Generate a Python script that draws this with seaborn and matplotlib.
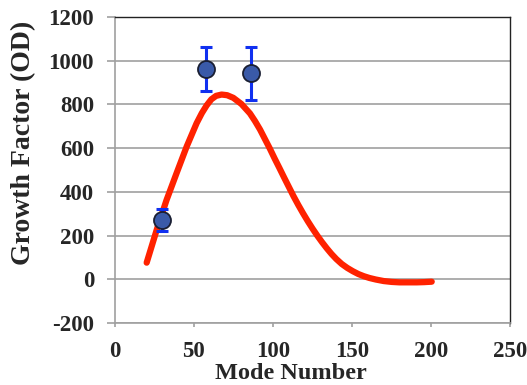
import numpy as np
import pandas as pd
import matplotlib
matplotlib.use("Agg")
import matplotlib.pyplot as plt
import seaborn as sns

# fitted curve
curve_x = [20.1, 26.4, 32.7, 39.0, 45.4, 51.7, 55.0, 58.0, 61.0, 64.0, 67.5,
           71.0, 74.9, 80.0, 85.4, 88.6, 91.8, 95.0, 98.0, 101.0, 104.0,
           107.0, 110.0, 113.0, 116.0, 119.0, 122.0, 125.0, 128.0, 131.0,
           134.0, 137.0, 140.0, 143.5, 147.0, 150.5, 154.0, 157.5, 161.0,
           165.0, 170.0, 175.0, 180.0, 185.5, 190.9, 195.5, 200.4]
curve_y = [76, 225, 363, 485, 607, 714, 760, 795, 823, 839, 845,
           842, 830, 802, 759, 724, 685, 640, 598, 553, 510,
           466, 423, 380, 340, 302, 266, 232, 200, 170,
           142, 116, 93, 70, 52, 37, 24, 14, 6,
           -1, -8, -12, -14, -14, -14, -13, -11]

# measured points
mode_x = [29.5, 57.4, 85.9]
growth_y = [271, 962, 942]
growth_err = [52, 100, 120]

curve = pd.DataFrame({"Mode Number": curve_x, "Growth Factor": curve_y})
points = pd.DataFrame({"Mode Number": mode_x, "Growth Factor": growth_y})

sns.set_theme(style="white")
plt.rcParams['font.family'] = ['Liberation Serif', 'DejaVu Serif']
plt.rcParams['axes.unicode_minus'] = False

fig = plt.figure(figsize=(5.27, 3.85), dpi=100)
ax = fig.add_axes([0.218, 0.161, 0.750, 0.795])

sns.lineplot(data=curve, x="Mode Number", y="Growth Factor", ax=ax,
             color="#ff2200", linewidth=4.5, solid_capstyle="round",
             solid_joinstyle="round", zorder=3)

ax.errorbar(mode_x, growth_y, yerr=growth_err, fmt="none", ecolor="#1030f0",
            elinewidth=2.2, capsize=4, capthick=2.2, zorder=4)
sns.scatterplot(data=points, x="Mode Number", y="Growth Factor", ax=ax,
                s=150, color="#3a5aa8", edgecolor="#1a1f33", linewidth=1.3, zorder=5)

ax.set_xlim(0, 250)
ax.set_ylim(-200, 1200)
ax.set_xticks(range(0, 251, 50))
ax.set_yticks(range(-200, 1201, 200))
ax.yaxis.grid(True, color="#a0a0a0", linewidth=1.2)
ax.set_axisbelow(True)

for side in ["left", "bottom"]:
    ax.spines[side].set_color("#a0a0a0")
    ax.spines[side].set_linewidth(1.2)
for side in ["top", "right"]:
    ax.spines[side].set_color("#222222")
    ax.spines[side].set_linewidth(1.0)

ax.tick_params(axis="both", which="major", width=1.2, color="#a0a0a0",
               labelsize=16.5, direction="out")
ax.tick_params(axis="y", length=6, pad=9)
ax.tick_params(axis="x", length=3, pad=10)
ax.tick_params(left=True, bottom=True)
for lbl in ax.get_xticklabels() + ax.get_yticklabels():
    lbl.set_fontweight("bold")

ax.set_xlabel("Mode Number", fontsize=17.5, fontweight="bold")
ax.set_ylabel("Growth Factor (OD)", fontsize=20, fontweight="bold")
ax.xaxis.set_label_coords(0.444, -0.131, transform=ax.transAxes)
ax.xaxis.label.set_va("top")
ax.yaxis.set_label_coords(-0.2, 0.59, transform=ax.transAxes)

fig.savefig("out.png", dpi=100)
